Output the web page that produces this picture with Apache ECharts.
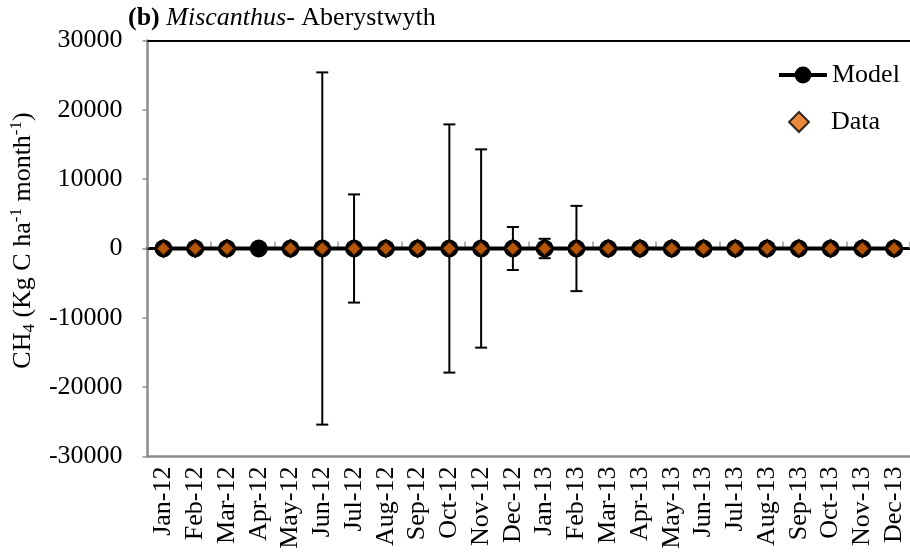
<!DOCTYPE html>
<html>
<head>
<meta charset="utf-8">
<script src="https://cdn.jsdelivr.net/npm/echarts@6/dist/echarts.min.js"></script>
<style>
  html, body { margin: 0; padding: 0; background: #fff; }
  #chart { width: 910px; height: 555px; }
</style>
</head>
<body>
<div id="chart"></div>
<script>
// Monthly CH4 flux, Miscanthus at Aberystwyth
const months = ['Jan-12','Feb-12','Mar-12','Apr-12','May-12','Jun-12','Jul-12','Aug-12','Sep-12','Oct-12','Nov-12','Dec-12',
                'Jan-13','Feb-13','Mar-13','Apr-13','May-13','Jun-13','Jul-13','Aug-13','Sep-13','Oct-13','Nov-13','Dec-13'];
const modelValues = [0,0,0,0,0,0,0,0,0,0,0,0, 0,0,0,0,0,0,0,0,0,0,0,0];
const dataValues  = [0,0,0,null,0,0,0,0,0,0,0,0, 0,0,0,0,0,0,0,0,0,0,0,0];
// standard deviation of the measured data (null = no bar)
const dataErrors  = [null,null,null,null,null,25400,7800,null,null,17900,14300,3100, 1400,6150,null,null,null,null,null,null,null,null,null,null];
const yTicks = { min: -30000, max: 30000, step: 10000 };

const serif = '"Liberation Serif", "DejaVu Serif", serif';
const errorItems = [];
dataErrors.forEach(function (e, i) {
  if (e != null && dataValues[i] != null) errorItems.push([i, dataValues[i], e]);
});

const chart = echarts.init(document.getElementById('chart'));
chart.setOption({
  animation: false,
  textStyle: { fontFamily: serif, color: '#000' },
  title: {
    text: '{b|(b)} {i|Miscanthus}- Aberystwyth',
    left: 123, top: 0,
    textStyle: {
      fontFamily: serif, fontSize: 26, fontWeight: 'normal', color: '#000',
      rich: {
        b: { fontFamily: serif, fontSize: 26, fontWeight: 'bold', color: '#000' },
        i: { fontFamily: serif, fontSize: 26, fontStyle: 'italic', color: '#000' }
      }
    }
  },
  legend: [
    {
      orient: 'vertical',
      left: 772, top: 57,
      itemWidth: 48, itemHeight: 21,
      lineStyle: { width: 4 },
      textStyle: { fontFamily: serif, fontSize: 26, color: '#000' },
      data: ['Model']
    },
    {
      orient: 'vertical',
      left: 783, top: 104,
      itemWidth: 20, itemHeight: 20,
      formatter: '{p|{name}}',
      textStyle: { fontFamily: serif, fontSize: 26, color: '#000', rich: { p: { fontFamily: serif, fontSize: 26, padding: [0, 0, 0, 17] } } },
      data: ['Data']
    }
  ],
  grid: { left: 145, top: 40.5, width: 773, height: 416, containLabel: false },
  xAxis: [
    {
      type: 'category', data: months, boundaryGap: true,
      position: 'bottom',
      axisLine: { onZero: true, lineStyle: { color: '#000', width: 3 } },
      axisTick: { show: true, inside: true, length: 7, lineStyle: { color: '#999', width: 1.5 } },
      axisLabel: { show: false },
      splitLine: { show: false }
    },
    {
      type: 'category', data: months, boundaryGap: true,
      position: 'bottom',
      axisLine: { onZero: false, lineStyle: { color: '#8c8c8c', width: 2.5 } },
      axisTick: { show: false },
      axisLabel: { rotate: 90, margin: 10, fontFamily: serif, fontSize: 26, color: '#000', interval: 0 },
      splitLine: { show: false }
    },
    {
      type: 'category', data: months, boundaryGap: true,
      position: 'top',
      axisLine: { onZero: false, lineStyle: { color: '#000', width: 2 } },
      axisTick: { show: false },
      axisLabel: { show: false },
      splitLine: { show: false }
    }
  ],
  yAxis: {
    type: 'value', min: yTicks.min, max: yTicks.max, interval: yTicks.step,
    axisLine: { show: true, onZero: false, lineStyle: { color: '#8c8c8c', width: 2.5 } },
    axisTick: { show: true, inside: false, length: 5, lineStyle: { color: '#8c8c8c', width: 1.5 } },
    axisLabel: { margin: 25, fontFamily: serif, fontSize: 26, color: '#000', formatter: function (v) { return String(v); } },
    splitLine: { show: false },
    name: 'CH{sub|4} (Kg C ha{sup|-1} month{sup|-1})',
    nameLocation: 'middle',
    nameRotate: 90,
    nameGap: 104,
    nameTextStyle: {
      fontFamily: serif, fontSize: 26, color: '#000', lineHeight: 30,
      padding: [0, 0, 0, 16],
      rich: {
        sub: { fontFamily: serif, fontSize: 17, color: '#000', verticalAlign: 'bottom', lineHeight: 14 },
        sup: { fontFamily: serif, fontSize: 17, color: '#000', verticalAlign: 'top', lineHeight: 14 }
      }
    }
  },
  series: [
    {
      name: 'Model', type: 'line', data: modelValues,
      xAxisIndex: 0, yAxisIndex: 0,
      symbol: 'circle', symbolSize: 18,
      lineStyle: { color: '#000', width: 4 },
      itemStyle: { color: '#000', borderColor: '#000', borderWidth: 0 },
      z: 2
    },
    {
      name: 'errorbars', type: 'custom', data: errorItems,
      xAxisIndex: 0, yAxisIndex: 0,
      renderItem: function (params, api) {
        const i = api.value(0), c = api.value(1), e = api.value(2);
        const top = api.coord([i, c + e]);
        const bot = api.coord([i, c - e]);
        const hw = 6;
        const style = { stroke: '#000', lineWidth: 2 };
        return {
          type: 'group',
          children: [
            { type: 'line', shape: { x1: top[0], y1: top[1], x2: bot[0], y2: bot[1] }, style: style },
            { type: 'line', shape: { x1: top[0] - hw, y1: top[1], x2: top[0] + hw, y2: top[1] }, style: style },
            { type: 'line', shape: { x1: bot[0] - hw, y1: bot[1], x2: bot[0] + hw, y2: bot[1] }, style: style }
          ]
        };
      },
      z: 3,
      silent: true
    },
    {
      name: 'Data', type: 'scatter', data: dataValues,
      xAxisIndex: 0, yAxisIndex: 0,
      symbol: 'diamond', symbolSize: 16,
      itemStyle: { color: '#E46C0A', borderColor: '#000', borderWidth: 3 },
      z: 4
    }
  ]
});
</script>
</body>
</html>
